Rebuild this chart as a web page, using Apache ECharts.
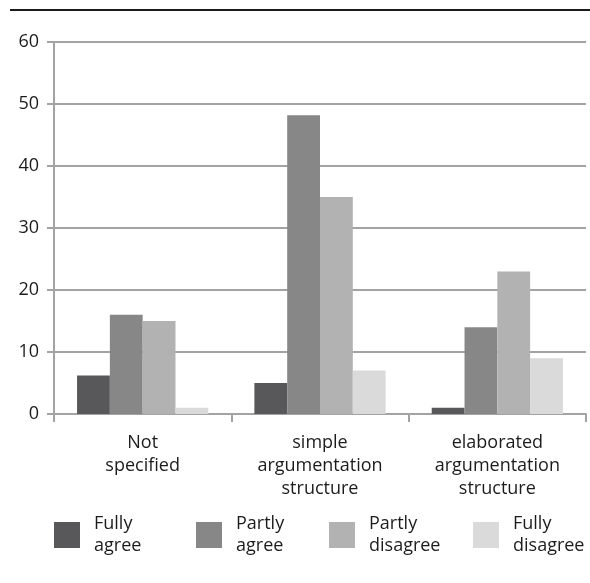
<!DOCTYPE html>
<html>
<head>
<meta charset="utf-8">
<script src="https://cdn.jsdelivr.net/npm/echarts@6/dist/echarts.min.js"></script>
<style>
html,body{margin:0;padding:0;background:#fff;}
#c{width:590px;height:583px;}
</style>
</head>
<body>
<div id="c"></div>
<script>
const categories = ['Not\nspecified', 'simple\nargumentation\nstructure', 'elaborated\nargumentation\nstructure'];
const seriesNames = ['Fully agree', 'Partly agree', 'Partly disagree', 'Fully disagree'];
const legendLabels = ['Fully\nagree', 'Partly\nagree', 'Partly\ndisagree', 'Fully\ndisagree'];
const fullyAgree = [6.2, 5, 1];
const partlyAgree = [16, 48.2, 14];
const partlyDisagree = [15, 35, 23];
const fullyDisagree = [1, 7, 9];
const yTicks = [0, 10, 20, 30, 40, 50, 60];

const values = [fullyAgree, partlyAgree, partlyDisagree, fullyDisagree];
const colors = ['#58585a', '#878787', '#b2b2b3', '#dadadb'];
const legendLeft = [54, 196, 329, 473];
const FONT = '"Open Sans", "Noto Sans", sans-serif';
const gridColor = '#a3a3a3';
const textColor = '#1c1c1c';

const chart = echarts.init(document.getElementById('c'), null, {renderer: 'canvas'});
chart.setOption({
  animation: false,
  backgroundColor: '#fff',
  graphic: [{
    type: 'rect', shape: {x: 10, y: 9, width: 580, height: 2},
    style: {fill: '#1a1a1a'}
  }],
  grid: {left: 54, right: 4, top: 42, bottom: 169, containLabel: false},
  legend: seriesNames.map((n, i) => ({
    data: [n],
    left: legendLeft[i],
    top: 513,
    itemWidth: 26,
    itemHeight: 26,
    icon: 'rect',
    padding: 0,
    formatter: () => legendLabels[i],
    textStyle: {fontFamily: FONT, fontSize: 18, lineHeight: 22, color: textColor, padding: [0, 0, 0, 9]}
  })),
  xAxis: {
    type: 'category',
    data: categories,
    axisLine: {show: true, lineStyle: {color: gridColor, width: 2}},
    axisTick: {show: true, length: 8, lineStyle: {color: gridColor, width: 2}},
    axisLabel: {fontFamily: FONT, fontSize: 18, lineHeight: 23, color: textColor, margin: 17, interval: 0}
  },
  yAxis: {
    type: 'value',
    min: yTicks[0],
    max: yTicks[yTicks.length - 1],
    interval: 10,
    axisLine: {show: true, lineStyle: {color: gridColor, width: 2}},
    axisTick: {show: true, length: 7, lineStyle: {color: gridColor, width: 2}},
    splitLine: {show: true, lineStyle: {color: gridColor, width: 2}},
    axisLabel: {fontFamily: FONT, fontSize: 18, color: textColor, margin: 15}
  },
  series: seriesNames.map((n, i) => ({
    name: n,
    type: 'bar',
    data: values[i],
    barGap: '0%',
    barCategoryGap: '26%',
    itemStyle: {color: colors[i]}
  }))
});
</script>
</body>
</html>
